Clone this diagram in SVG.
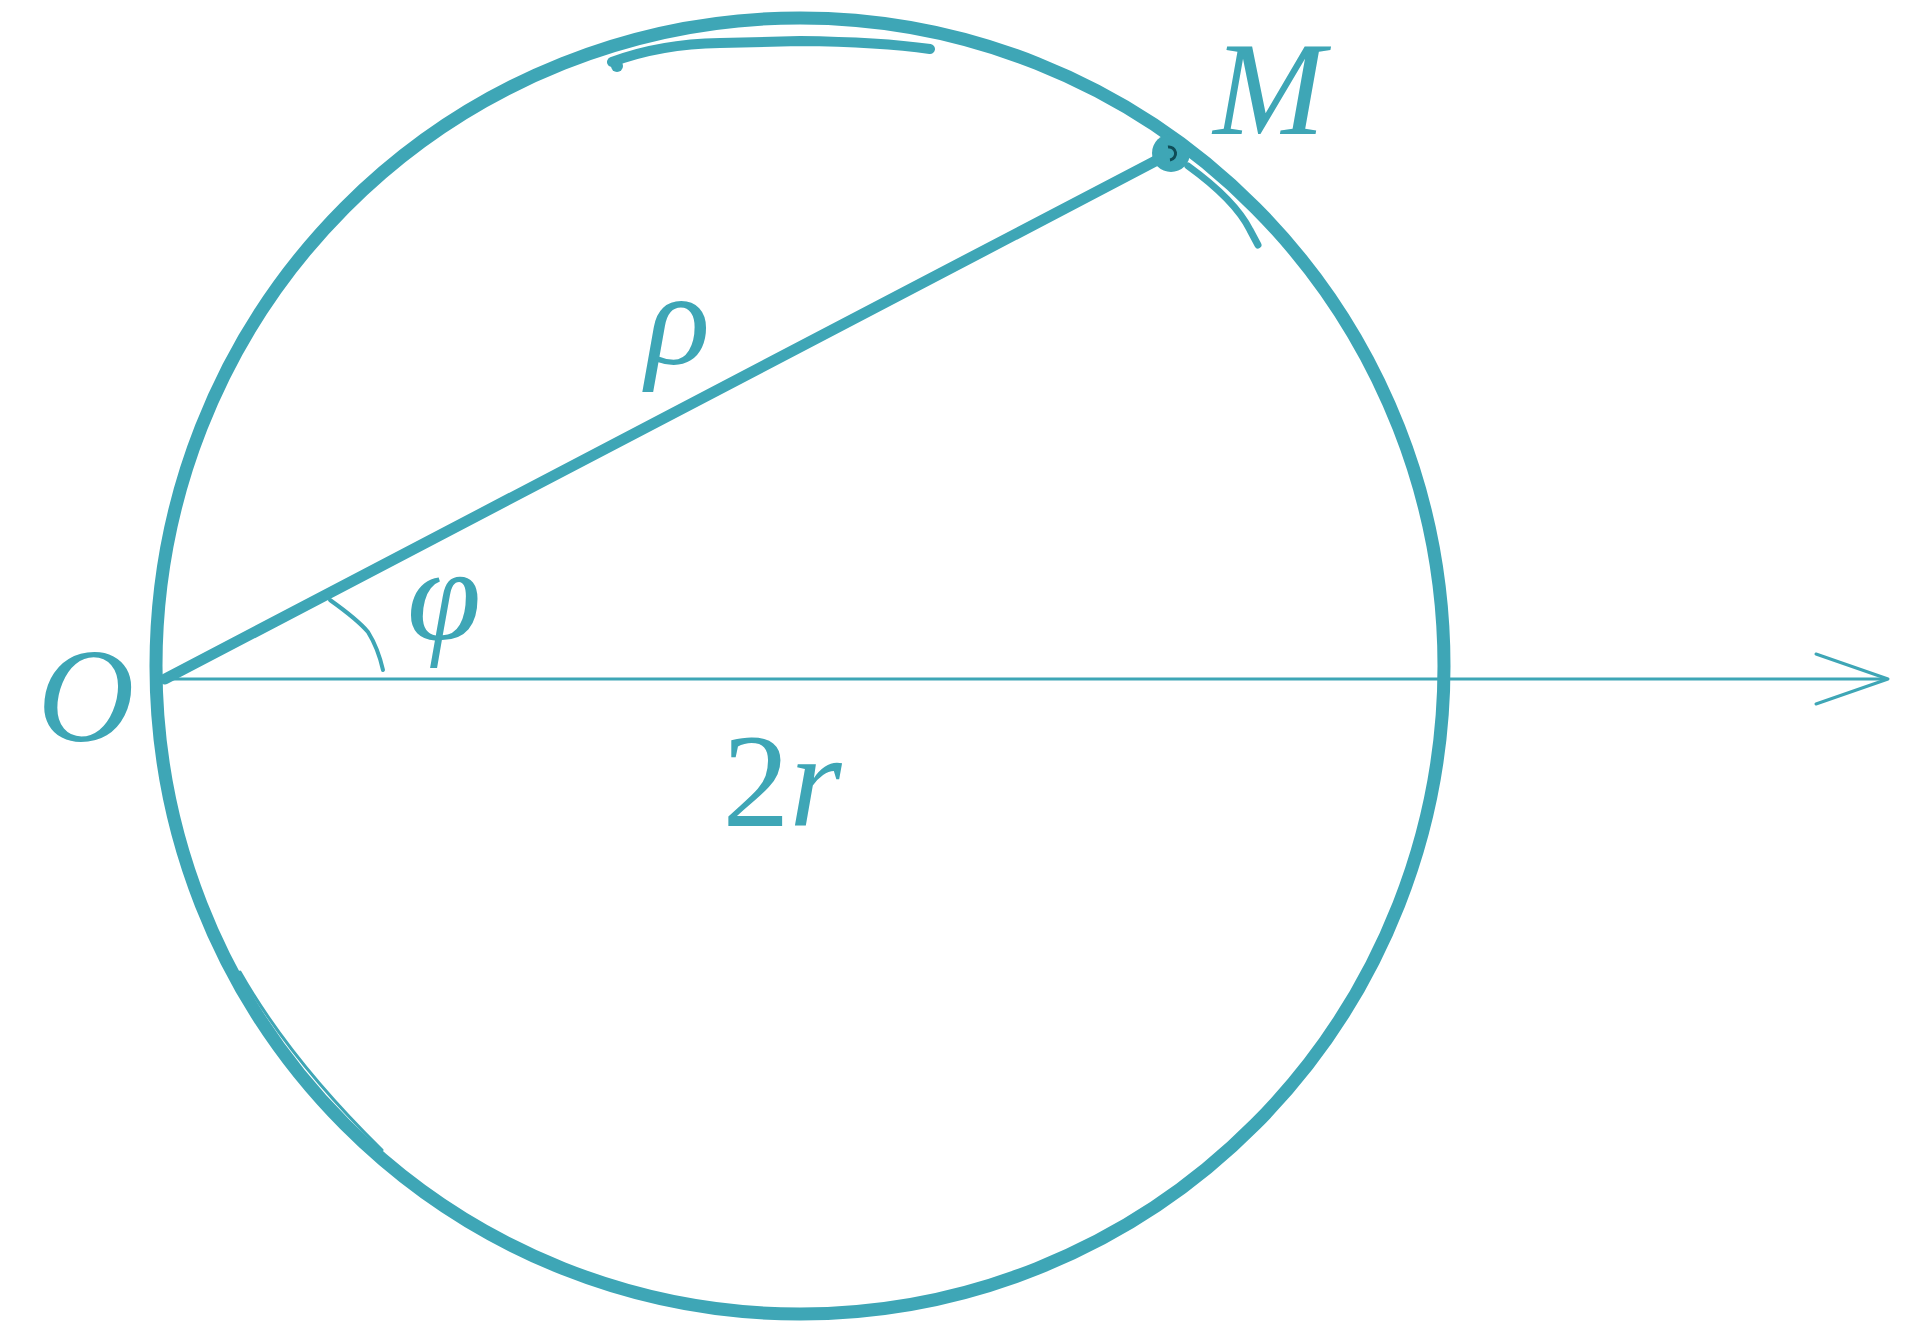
<svg xmlns="http://www.w3.org/2000/svg" width="1916" height="1332" viewBox="0 0 1916 1332">
<style>
.ink{fill:none;stroke:#3ea6b6;stroke-linecap:round;stroke-linejoin:round}
.lbl{font-family:"Liberation Serif","DejaVu Serif",serif;font-style:italic;fill:#3ea6b6;font-size:134px;text-anchor:middle}
.num{font-style:normal}
</style>
<rect width="1916" height="1332" fill="#ffffff"/>
<g id="circle">
<ellipse class="ink" cx="800" cy="666" rx="644" ry="648" stroke-width="13"/>
<path class="ink" d="M 612 62 Q 660 44 720 43 L 800 41 Q 880 42 930 49" stroke-width="10"/>
<path class="ink" d="M 240 972 Q 290 1060 382 1150" stroke-width="3"/>
<path class="ink" d="M 1188 166 Q 1235 200 1250 230 L 1258 245" stroke-width="7"/>
<circle cx="617" cy="66" r="6" fill="#3ea6b6"/>
</g>
<g id="connectors">
<line class="ink" x1="165" y1="679" x2="1886" y2="679" stroke-width="3"/>
<polyline class="ink" points="1816,654 1888,679 1816,704" stroke-width="3"/>
<line class="ink" x1="165" y1="679" x2="1165" y2="156" stroke-width="11"/>
<path class="ink" d="M 330 600 Q 358 620 368 632 Q 378 648 383 670" stroke-width="4"/>
</g>
<g id="point-M">
<circle cx="1171" cy="153" r="19" fill="#3ea6b6"/>
<path d="M 1168 147 A 6 6 0 1 1 1170 160" fill="none" stroke="#0f4c57" stroke-width="3"/>
</g>
<g id="label-O"><text class="lbl" x="86" y="741">O</text></g>
<g id="label-M"><text class="lbl" x="1269" y="134">M</text></g>
<g id="label-rho"><text class="lbl" x="678" y="364">ρ</text></g>
<g id="label-phi"><text class="lbl" x="444" y="640">φ</text></g>
<g id="label-2r"><text class="lbl" x="782" y="826"><tspan class="num">2</tspan>r</text></g>
</svg>
